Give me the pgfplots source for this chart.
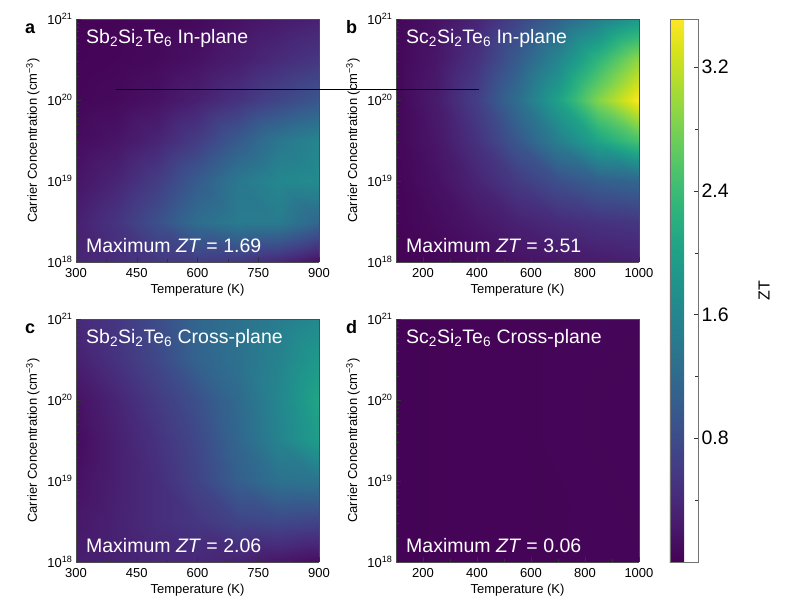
\documentclass[border=0pt]{standalone}
\usepackage{fontspec}
\setmainfont{Liberation Sans}
\usepackage{pgfplots}
\pgfplotsset{compat=1.18}
\pgfplotsset{
  myheat/.style={
    width=243pt,height=243pt,scale only axis,
    view={0}{90},
    ymin=18, ymax=21, ytick={18,19,20,21},
    yticklabels={10\textsuperscript{18},10\textsuperscript{19},10\textsuperscript{20},10\textsuperscript{21}},
    minor ytick={18.301,18.477,18.602,18.699,18.778,18.845,18.903,18.954,19.301,19.477,19.602,19.699,19.778,19.845,19.903,19.954,20.301,20.477,20.602,20.699,20.778,20.845,20.903,20.954},
    tick align=inside, xtick pos=bottom, ytick pos=left,
    major tick length=5pt, minor tick length=3pt,
    axis line style={black!70}, tick style={black!80},
    tick label style={font=\fontsize{13}{15}\selectfont},
    xticklabel style={yshift=-2.5pt},
    xlabel={Temperature (K)}, ylabel={Carrier Concentration (cm\textsuperscript{−3})},
    xlabel style={font=\fontsize{13}{15}\selectfont, at={(axis description cs:0.5,-0.115)}, anchor=center},
    ylabel style={font=\fontsize{13}{15}\selectfont, at={(axis description cs:-0.177,0.5)}, anchor=center},
    colormap/viridis, point meta min=0, point meta max=3.51,
  },
}
\tikzset{
 ttl/.style={anchor=base west, text=white, inner sep=0pt, font=\fontsize{19.5}{22}\selectfont},
 lett/.style={anchor=base west, inner sep=0pt, font=\bfseries\fontsize{18}{22}\selectfont},
}

\begin{document}
\begin{tikzpicture}
\path[use as bounding box] (0pt,0pt) rectangle (785pt,-608pt);

% ---------------- a  (y = log10 of carrier concentration)
\begin{axis}[myheat, at={(76pt,-19pt)}, anchor=north west,
  xmin=300, xmax=900, xtick={300,450,600,750,900}, xticklabels={300,450,600,750,900}, minor xtick={375,525,675,825}]
\addplot3[surf, shader=interp, mesh/cols=7] table[row sep=\\]{
x y z\\
300 18 0.35\\ 400 18 0.45\\ 500 18 0.55\\ 600 18 0.60\\ 700 18 0.55\\ 800 18 0.38\\ 900 18 0.12\\
300 18.5 0.30\\ 400 18.5 0.52\\ 500 18.5 0.85\\ 600 18.5 1.25\\ 700 18.5 1.45\\ 800 18.5 1.45\\ 900 18.5 1.15\\
300 19 0.18\\ 400 19 0.35\\ 500 19 0.62\\ 600 19 1.00\\ 700 19 1.40\\ 800 19 1.62\\ 900 19 1.69\\
300 19.5 0.10\\ 400 19.5 0.18\\ 500 19.5 0.35\\ 600 19.5 0.62\\ 700 19.5 1.00\\ 800 19.5 1.38\\ 900 19.5 1.60\\
300 20 0.05\\ 400 20 0.08\\ 500 20 0.15\\ 600 20 0.30\\ 700 20 0.50\\ 800 20 0.72\\ 900 20 0.92\\
300 20.5 0.03\\ 400 20.5 0.05\\ 500 20.5 0.08\\ 600 20.5 0.15\\ 700 20.5 0.27\\ 800 20.5 0.42\\ 900 20.5 0.55\\
300 21 0.02\\ 400 21 0.03\\ 500 21 0.05\\ 600 21 0.08\\ 700 21 0.15\\ 800 21 0.24\\ 900 21 0.32\\
};
\node[ttl] at (rel axis cs:0.041,0.901,1) {Sb\textsubscript{2}Si\textsubscript{2}Te\textsubscript{6} In-plane};
\node[ttl] at (rel axis cs:0.041,0.038,1) {Maximum \textit{ZT} = 1.69};
\coordinate (L1) at (axis cs:400,20.137,4);
\end{axis}

% ---------------- b
\begin{axis}[myheat, at={(396pt,-19pt)}, anchor=north west,
  xmin=100, xmax=1000, xtick={200,400,600,800,1000}, xticklabels={200,400,600,800,1000}, minor xtick={100,300,500,700,900},
  colorbar, colorbar style={at={(1.1276,1)}, anchor=north west, width=28pt, height=543pt,
   ytick={0.8,1.6,2.4,3.2}, yticklabels={0.8,1.6,2.4,3.2}, minor ytick={0.4,1.2,2.0,2.8}, yticklabel pos=right, ytick pos=right,
   axis line style={black!55},
   yticklabel style={font=\fontsize{19.5}{22}\selectfont},
   ylabel={ZT}, ylabel style={font=\fontsize{16}{18}\selectfont, at={(axis description cs:3.36,0.5)}, anchor=center}}]
\addplot3[surf, shader=interp, mesh/cols=7] table[row sep=\\]{
x y z\\
100 18 0.02\\ 250 18 0.05\\ 400 18 0.10\\ 550 18 0.15\\ 700 18 0.20\\ 850 18 0.25\\ 1000 18 0.30\\
100 18.5 0.03\\ 250 18.5 0.10\\ 400 18.5 0.20\\ 550 18.5 0.32\\ 700 18.5 0.42\\ 850 18.5 0.50\\ 1000 18.5 0.55\\
100 19 0.04\\ 250 19 0.15\\ 400 19 0.35\\ 550 19 0.60\\ 700 19 0.85\\ 850 19 1.05\\ 1000 19 1.15\\
100 19.5 0.05\\ 250 19.5 0.20\\ 400 19.5 0.50\\ 550 19.5 0.95\\ 700 19.5 1.50\\ 850 19.5 2.05\\ 1000 19.5 2.50\\
100 20 0.05\\ 250 20 0.25\\ 400 20 0.65\\ 550 20 1.25\\ 700 20 2.00\\ 850 20 2.85\\ 1000 20 3.51\\
100 20.5 0.05\\ 250 20.5 0.20\\ 400 20.5 0.50\\ 550 20.5 1.00\\ 700 20.5 1.60\\ 850 20.5 2.30\\ 1000 20.5 2.95\\
100 21 0.05\\ 250 21 0.15\\ 400 21 0.35\\ 550 21 0.70\\ 700 21 1.10\\ 850 21 1.50\\ 1000 21 1.90\\
};
\node[ttl] at (rel axis cs:0.041,0.901,1) {Sc\textsubscript{2}Si\textsubscript{2}Te\textsubscript{6} In-plane};
\node[ttl] at (rel axis cs:0.041,0.038,1) {Maximum \textit{ZT} = 3.51};
\coordinate (L2) at (axis cs:409,20.137,4);
\end{axis}

% ---------------- c
\begin{axis}[myheat, at={(76pt,-319pt)}, anchor=north west,
  xmin=300, xmax=900, xtick={300,450,600,750,900}, xticklabels={300,450,600,750,900}, minor xtick={375,525,675,825}]
\addplot3[surf, shader=interp, mesh/cols=7] table[row sep=\\]{
x y z\\
300 18 0.28\\ 400 18 0.32\\ 500 18 0.38\\ 600 18 0.38\\ 700 18 0.32\\ 800 18 0.20\\ 900 18 0.10\\
300 18.5 0.22\\ 400 18.5 0.32\\ 500 18.5 0.45\\ 600 18.5 0.55\\ 700 18.5 0.70\\ 800 18.5 0.75\\ 900 18.5 0.70\\
300 19 0.15\\ 400 19 0.30\\ 500 19 0.45\\ 600 19 0.70\\ 700 19 1.05\\ 800 19 1.30\\ 900 19 1.35\\
300 19.5 0.10\\ 400 19.5 0.30\\ 500 19.5 0.50\\ 600 19.5 0.75\\ 700 19.5 1.15\\ 800 19.5 1.55\\ 900 19.5 1.95\\
300 20 0.15\\ 400 20 0.35\\ 500 20 0.60\\ 600 20 0.85\\ 700 20 1.20\\ 800 20 1.60\\ 900 20 2.06\\
300 20.5 0.30\\ 400 20.5 0.50\\ 500 20.5 0.75\\ 600 20.5 1.10\\ 700 20.5 1.30\\ 800 20.5 1.55\\ 900 20.5 1.90\\
300 21 0.40\\ 400 21 0.55\\ 500 21 0.80\\ 600 21 1.15\\ 700 21 1.30\\ 800 21 1.45\\ 900 21 1.65\\
};
\node[ttl] at (rel axis cs:0.041,0.901,1) {Sb\textsubscript{2}Si\textsubscript{2}Te\textsubscript{6} Cross-plane};
\node[ttl] at (rel axis cs:0.041,0.038,1) {Maximum \textit{ZT} = 2.06};
\end{axis}

% ---------------- d
\begin{axis}[myheat, at={(396pt,-319pt)}, anchor=north west,
  xmin=100, xmax=1000, xtick={200,400,600,800,1000}, xticklabels={200,400,600,800,1000}, minor xtick={100,300,500,700,900}]
\addplot3[surf, shader=interp, mesh/cols=3] table[row sep=\\]{
x y z\\
100 18 0.02\\ 550 18 0.03\\ 1000 18 0.04\\
100 19.5 0.02\\ 550 19.5 0.03\\ 1000 19.5 0.05\\
100 21 0.02\\ 550 21 0.03\\ 1000 21 0.04\\
};
\node[ttl] at (rel axis cs:0.041,0.901,1) {Sc\textsubscript{2}Si\textsubscript{2}Te\textsubscript{6} Cross-plane};
\node[ttl] at (rel axis cs:0.041,0.038,1) {Maximum \textit{ZT} = 0.06};
\end{axis}

\draw[line width=0.8pt] (L1) -- (L2);

\node[lett] at (25pt,-33pt) {a};
\node[lett] at (346pt,-33pt) {b};
\node[lett] at (25pt,-333pt) {c};
\node[lett] at (346pt,-333pt) {d};
\end{tikzpicture}
\end{document}
